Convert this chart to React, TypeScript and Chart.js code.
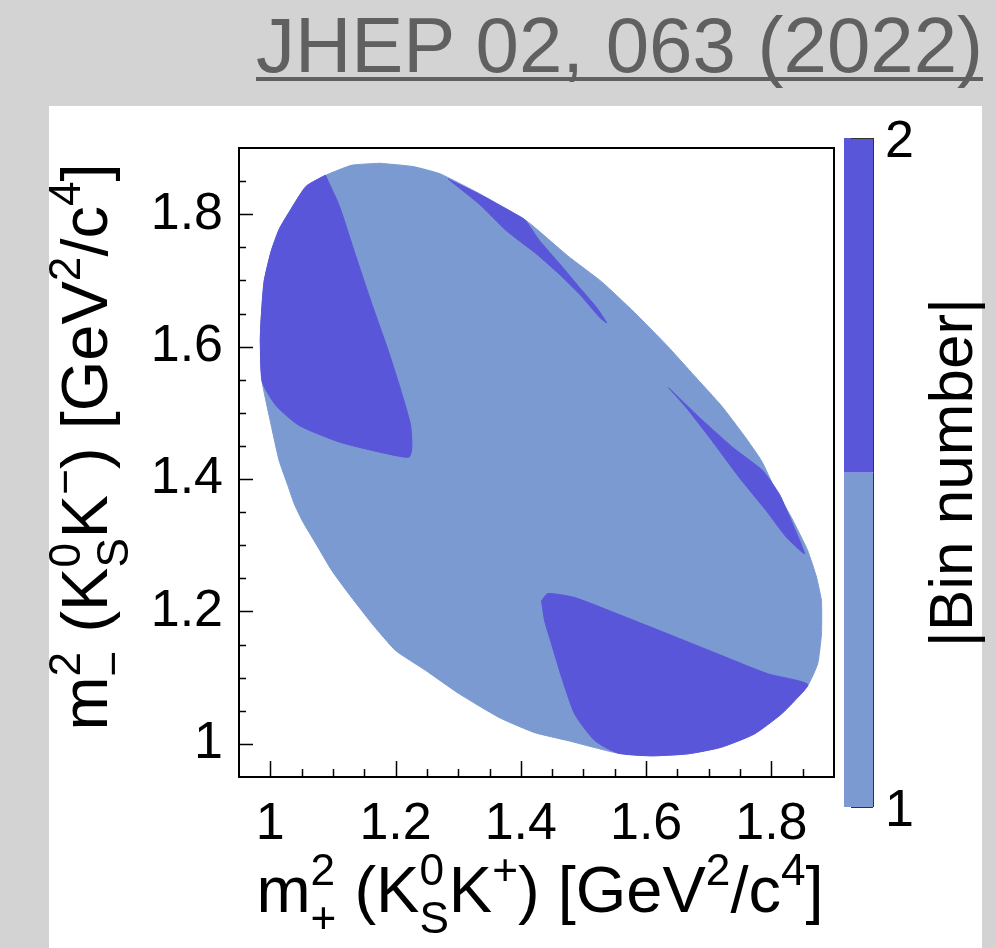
import React, { useEffect, useRef } from "react";
import { Chart, registerables } from "chart.js";

Chart.register(...registerables);

const FONT = '"Liberation Sans", Arial, Helvetica, sans-serif';

// ---- axes ----
const xMin = 0.95;
const xMax = 1.9;
const yMin = 0.95;
const yMax = 1.9;
const xTickValues = [1, 1.2, 1.4, 1.6, 1.8];
const xTickLabels = ["1", "1.2", "1.4", "1.6", "1.8"];
const yTickValues = [1, 1.2, 1.4, 1.6, 1.8];
const yTickLabels = ["1", "1.2", "1.4", "1.6", "1.8"];
const xMinorTicks = [1.05, 1.1, 1.15, 1.25, 1.3, 1.35, 1.45, 1.5, 1.55, 1.65, 1.7, 1.75, 1.85];
const yMinorTicks = [1.05, 1.1, 1.15, 1.25, 1.3, 1.35, 1.45, 1.5, 1.55, 1.65, 1.7, 1.75, 1.85];

// ---- colour scale (|Bin number|) ----
const binValues = [1, 2];
const binLabels = ["1", "2"];
const binColors = ["rgb(123,154,209)", "rgb(89,86,217)"];

// ---- regions (m+^2, m-^2) ----
const phaseSpaceBoundary: [number, number][] = [
  [1.175, 1.877], [1.228, 1.872], [1.271, 1.861], [1.334, 1.831], [1.409, 1.79],
  [1.475, 1.737], [1.529, 1.698], [1.581, 1.652], [1.634, 1.601], [1.677, 1.556],
  [1.72, 1.511], [1.757, 1.465], [1.784, 1.428], [1.805, 1.387], [1.832, 1.342],
  [1.858, 1.292], [1.872, 1.252], [1.88, 1.216], [1.88, 1.166], [1.874, 1.121],
  [1.858, 1.088], [1.816, 1.046], [1.773, 1.016], [1.72, 0.995], [1.666, 0.985],
  [1.608, 0.982], [1.55, 0.987], [1.475, 1.005], [1.422, 1.017], [1.365, 1.04],
  [1.301, 1.076], [1.248, 1.111], [1.2, 1.141], [1.162, 1.182], [1.125, 1.227],
  [1.098, 1.262], [1.073, 1.302], [1.051, 1.337], [1.038, 1.363], [1.027, 1.393],
  [1.014, 1.428], [0.998, 1.496], [0.987, 1.547], [0.984, 1.607], [0.985, 1.637],
  [0.99, 1.698], [1.001, 1.743], [1.014, 1.777], [1.03, 1.803], [1.057, 1.842],
  [1.089, 1.859], [1.13, 1.874], [1.175, 1.877],
];

const bin2UpperLeft: [number, number][] = [
  [1.088, 1.859], [1.11, 1.813], [1.136, 1.738], [1.163, 1.662], [1.189, 1.592],
  [1.211, 1.526], [1.224, 1.481], [1.226, 1.446], [1.221, 1.433], [1.173, 1.441],
  [1.11, 1.456], [1.046, 1.481], [1.009, 1.511], [0.987, 1.547], [0.984, 1.607],
  [0.985, 1.637], [0.99, 1.698], [1.001, 1.743], [1.014, 1.777], [1.03, 1.803],
  [1.057, 1.842], [1.088, 1.859],
];

const bin2TopSliver: [number, number][] = [
  [1.284, 1.853], [1.334, 1.83], [1.388, 1.802], [1.406, 1.792], [1.43, 1.76],
  [1.462, 1.725], [1.494, 1.689], [1.521, 1.659], [1.537, 1.636], [1.526, 1.644],
  [1.494, 1.679], [1.462, 1.709], [1.425, 1.74], [1.377, 1.775], [1.334, 1.815],
  [1.284, 1.853],
];

const bin2RightSliver: [number, number][] = [
  [1.636, 1.538], [1.685, 1.493], [1.738, 1.448], [1.786, 1.413], [1.813, 1.377],
  [1.834, 1.332], [1.853, 1.287], [1.824, 1.312], [1.792, 1.352], [1.749, 1.402],
  [1.701, 1.463], [1.664, 1.508], [1.636, 1.538],
];

const bin2LowerRight: [number, number][] = [
  [1.433, 1.216], [1.443, 1.227], [1.486, 1.221], [1.555, 1.196], [1.635, 1.166],
  [1.714, 1.136], [1.794, 1.106], [1.858, 1.09], [1.837, 1.065], [1.816, 1.045],
  [1.773, 1.015], [1.72, 0.995], [1.667, 0.985], [1.608, 0.982], [1.555, 0.986],
  [1.518, 1.005], [1.486, 1.045], [1.465, 1.101], [1.449, 1.151], [1.438, 1.186],
  [1.433, 1.216],
];

// ---- layout constants ----
const AREA = { left: 239, top: 148, right: 834, bottom: 777 };
const CB = { left: 844, right: 873, top: 138, bottom: 807 };
const TITLE_SIZE = 65;
const TICK_SIZE = 52;

type Run = { t: string; s?: number; dy?: number; stack?: boolean };

const SUP = -0.42;
const SUB = 0.33;
const SS = 0.68;

const xTitleRuns: Run[] = [
  { t: "m" }, { t: "2", s: SS, dy: SUP }, { t: "+", s: SS, dy: SUB, stack: true },
  { t: " (K" }, { t: "0", s: SS, dy: SUP }, { t: "S", s: SS, dy: SUB, stack: true },
  { t: "K" }, { t: "+", s: SS, dy: SUP }, { t: ") [GeV" }, { t: "2", s: SS, dy: SUP },
  { t: "/c" }, { t: "4", s: SS, dy: SUP }, { t: "]" },
];
const yTitleRuns: Run[] = [
  { t: "m" }, { t: "2", s: SS, dy: SUP }, { t: "\u2212", s: SS, dy: SUB, stack: true },
  { t: " (K" }, { t: "0", s: SS, dy: SUP }, { t: "S", s: SS, dy: SUB, stack: true },
  { t: "K" }, { t: "\u2212", s: SS, dy: SUP }, { t: ") [GeV" }, { t: "2", s: SS, dy: SUP },
  { t: "/c" }, { t: "4", s: SS, dy: SUP }, { t: "]" },
];
const zTitleRuns: Run[] = [{ t: "|Bin number|" }];

function layoutRuns(ctx: CanvasRenderingContext2D, runs: Run[], size: number, draw: boolean, x0: number, y0: number) {
  let x = x0;
  let prevStart = x0;
  let prevW = 0;
  for (const r of runs) {
    const fs = size * (r.s ?? 1);
    ctx.font = `${fs}px ${FONT}`;
    const w = ctx.measureText(r.t).width;
    const start = r.stack ? prevStart : x;
    if (draw) ctx.fillText(r.t, start, y0 + (r.dy ?? 0) * size);
    x = r.stack ? prevStart + Math.max(prevW, w) : start + w;
    prevStart = start;
    prevW = w;
  }
  return x - x0;
}

function drawCentered(ctx: CanvasRenderingContext2D, runs: Run[], size: number, cx: number, baseY: number, rotate: boolean) {
  ctx.save();
  ctx.fillStyle = "#000";
  ctx.textBaseline = "alphabetic";
  ctx.textAlign = "left";
  const w = layoutRuns(ctx, runs, size, false, 0, 0);
  if (rotate) {
    ctx.translate(baseY, cx);
    ctx.rotate(-Math.PI / 2);
    layoutRuns(ctx, runs, size, true, -w / 2, 0);
  } else {
    layoutRuns(ctx, runs, size, true, cx - w / 2, baseY);
  }
  ctx.restore();
}

const decorations = {
  id: "decorations",
  afterDraw(chart: any) {
    const ctx: CanvasRenderingContext2D = chart.ctx;
    const xs = chart.scales.x;
    const ys = chart.scales.y;
    const a = chart.chartArea;
    ctx.save();
    // ticks
    ctx.strokeStyle = "#000";
    ctx.lineWidth = 1.5;
    ctx.beginPath();
    for (const v of xTickValues) {
      const px = Math.round(xs.getPixelForValue(v)) + 0.5;
      ctx.moveTo(px, a.bottom); ctx.lineTo(px, a.bottom - 16);
    }
    for (const v of xMinorTicks) {
      const px = Math.round(xs.getPixelForValue(v)) + 0.5;
      ctx.moveTo(px, a.bottom); ctx.lineTo(px, a.bottom - 8);
    }
    for (const v of yTickValues) {
      const py = Math.round(ys.getPixelForValue(v)) + 0.5;
      ctx.moveTo(a.left, py); ctx.lineTo(a.left + 14, py);
    }
    for (const v of yMinorTicks) {
      const py = Math.round(ys.getPixelForValue(v)) + 0.5;
      ctx.moveTo(a.left, py); ctx.lineTo(a.left + 7, py);
    }
    ctx.stroke();
    // frame
    ctx.lineWidth = 2;
    ctx.strokeRect(a.left, a.top, a.right - a.left, a.bottom - a.top);

    // colour bar
    const zMin = binValues[0];
    const zMax = binValues[binValues.length - 1];
    const zPix = (z: number) => CB.bottom - ((z - zMin) / (zMax - zMin)) * (CB.bottom - CB.top);
    const nb = binColors.length;
    for (let i = 0; i < nb; i++) {
      const z0 = zMin + (i * (zMax - zMin)) / nb;
      const z1 = zMin + ((i + 1) * (zMax - zMin)) / nb;
      ctx.fillStyle = binColors[i];
      ctx.fillRect(CB.left, zPix(z1), CB.right - CB.left, zPix(z0) - zPix(z1));
    }
    ctx.strokeStyle = "#333";
    ctx.lineWidth = 1;
    ctx.beginPath();
    ctx.moveTo(CB.right + 0.5, CB.top);
    ctx.lineTo(CB.right + 0.5, CB.bottom);
    for (const z of binValues) {
      const py = Math.round(zPix(z)) + 0.5;
      ctx.moveTo(CB.right, py);
      ctx.lineTo(CB.left + 7, py);
    }
    ctx.stroke();
    ctx.fillStyle = "#000";
    ctx.font = `${TICK_SIZE}px ${FONT}`;
    ctx.textAlign = "left";
    ctx.textBaseline = "middle";
    binValues.forEach((z, i) => {
      ctx.fillText(binLabels[i], CB.right + 12, zPix(z) + 5);
    });
    ctx.restore();

    // titles
    drawCentered(ctx, xTitleRuns, TITLE_SIZE, 540, 912, false);
    drawCentered(ctx, yTitleRuns, TITLE_SIZE, 447, 107, true);
    drawCentered(ctx, zTitleRuns, TITLE_SIZE - 3, (CB.top + CB.bottom) / 2, 972, true);
  },
};

function region(label: string, pts: [number, number][], color: string, order: number, tension: number) {
  return {
    label,
    data: pts.map(([x, y]) => ({ x, y })),
    showLine: true,
    fill: "shape",
    backgroundColor: color,
    borderColor: color,
    borderWidth: 1,
    pointRadius: 0,
    tension,
    order,
  };
}

export default function App() {
  const ref = useRef<HTMLCanvasElement>(null);
  useEffect(() => {
    const yAxisW = 120;
    const xAxisH = 100;
    const chart = new Chart(ref.current as HTMLCanvasElement, {
      type: "scatter",
      data: {
        datasets: [
          region("|Bin number| = 1", phaseSpaceBoundary, binColors[0], 2, 0.15),
          region("|Bin number| = 2 (upper left)", bin2UpperLeft, binColors[1], 1, 0.2),
          region("|Bin number| = 2 (top)", bin2TopSliver, binColors[1], 1, 0.15),
          region("|Bin number| = 2 (right)", bin2RightSliver, binColors[1], 1, 0.15),
          region("|Bin number| = 2 (lower right)", bin2LowerRight, binColors[1], 1, 0.2),
        ] as any,
      },
      options: {
        responsive: false,
        animation: false,
        devicePixelRatio: 1,
        layout: {
          padding: {
            left: AREA.left - yAxisW,
            right: 996 - AREA.right,
            top: AREA.top,
            bottom: 948 - AREA.bottom - xAxisH,
          },
        },
        plugins: {
          legend: { display: false },
          tooltip: { enabled: false },
          title: { display: false },
        },
        scales: {
          x: {
            type: "linear",
            min: xMin,
            max: xMax,
            position: "bottom",
            afterBuildTicks: (s: any) => {
              s.ticks = xTickValues.map((v) => ({ value: v }));
            },
            afterFit: (s: any) => {
              s.height = xAxisH;
            },
            grid: { display: false },
            border: { display: false },
            ticks: {
              autoSkip: false,
              maxRotation: 0,
              padding: 8,
              color: "#000",
              font: { family: FONT, size: TICK_SIZE },
              callback: (_v: any, i: number) => xTickLabels[i],
            },
          },
          y: {
            type: "linear",
            min: yMin,
            max: yMax,
            position: "left",
            afterBuildTicks: (s: any) => {
              s.ticks = yTickValues.map((v) => ({ value: v }));
            },
            afterFit: (s: any) => {
              s.width = yAxisW;
            },
            grid: { display: false },
            border: { display: false },
            ticks: {
              autoSkip: false,
              padding: 8,
              color: "#000",
              font: { family: FONT, size: TICK_SIZE },
              callback: (_v: any, i: number) => yTickLabels[i],
            },
          },
        },
      } as any,
      plugins: [decorations],
    });
    return () => chart.destroy();
  }, []);

  return (
    <div
      style={{
        position: "fixed",
        left: 0,
        top: 0,
        width: 996,
        height: 948,
        background: "rgb(211,211,211)",
        overflow: "hidden",
      }}
    >
      <div style={{ position: "absolute", left: 49, top: 106, width: 933, height: 842, background: "#fff" }} />
      <div
        style={{
          position: "absolute",
          right: 13,
          top: 6,
          font: `78px ${FONT}`,
          lineHeight: "78px",
          color: "rgb(96,96,96)",
          textDecoration: "underline",
          textDecorationThickness: "4px",
          textUnderlineOffset: "5px",
          textDecorationSkipInk: "none",
          whiteSpace: "nowrap",
        } as any}
      >
        JHEP 02, 063 (2022)
      </div>
      <canvas
        ref={ref}
        width={996}
        height={948}
        style={{ position: "absolute", left: 0, top: 0, width: 996, height: 948 }}
      />
    </div>
  );
}
